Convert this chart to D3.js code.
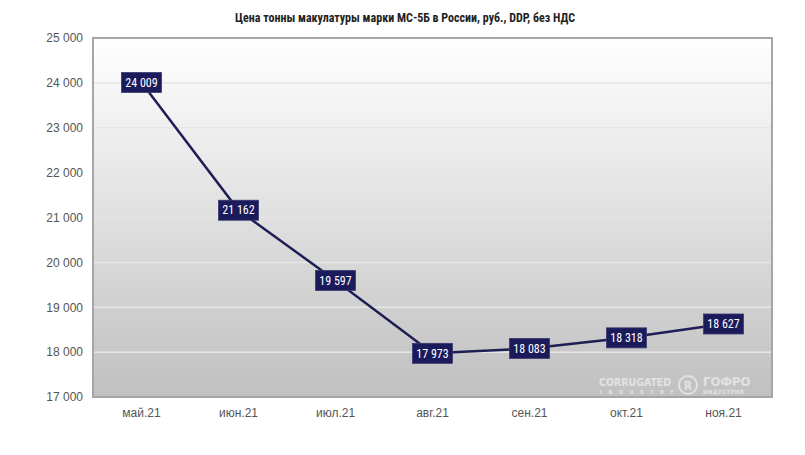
<!DOCTYPE html>
<html>
<head>
<meta charset="utf-8">
<script src="https://cdn.jsdelivr.net/npm/d3@7"></script>
<style>
  body { margin: 0; background: #fff; }
  svg { display: block; font-family: "Liberation Sans Narrow", "Roboto Condensed", "Liberation Sans", sans-serif; }
</style>
</head>
<body>
<svg id="chart"></svg>
<script>
var months = ["май.21", "июн.21", "июл.21", "авг.21", "сен.21", "окт.21", "ноя.21"];
var prices = [24009, 21162, 19597, 17973, 18083, 18318, 18627];
var yTicks = [17000, 18000, 19000, 20000, 21000, 22000, 23000, 24000, 25000];
var title = "Цена тонны макулатуры марки МС-5Б в России, руб., DDP, без НДС";

var width = 805, height = 455;
var margin = {top: 38, right: 33, bottom: 58, left: 93};

var svg = d3.select("#chart")
  .attr("width", width)
  .attr("height", height);

var fmt = function(v) { return d3.format(",")(v).replace(/,/g, " "); };

var x = d3.scaleBand()
  .domain(months)
  .range([margin.left, width - margin.right]);

var y = d3.scaleLinear()
  .domain([17000, 25000])
  .range([height - margin.bottom, margin.top]);

// background gradient
var grad = svg.append("defs").append("linearGradient")
  .attr("id", "bg")
  .attr("x1", 0).attr("y1", 0).attr("x2", 0).attr("y2", 1);
grad.append("stop").attr("offset", "0%").attr("stop-color", "#ffffff");
grad.append("stop").attr("offset", "100%").attr("stop-color", "#c0c0c0");

svg.append("rect")
  .attr("x", margin.left)
  .attr("y", margin.top)
  .attr("width", width - margin.left - margin.right)
  .attr("height", height - margin.top - margin.bottom)
  .attr("fill", "url(#bg)");

// gridlines
svg.append("g")
  .selectAll("line")
  .data(yTicks.slice(1, -1))
  .join("line")
  .attr("x1", margin.left)
  .attr("x2", width - margin.right)
  .attr("y1", d => y(d))
  .attr("y2", d => y(d))
  .attr("stroke", "#e6e6e6")
  .attr("stroke-width", 1.5);

// border
svg.append("rect")
  .attr("x", margin.left)
  .attr("y", margin.top)
  .attr("width", width - margin.left - margin.right)
  .attr("height", height - margin.top - margin.bottom)
  .attr("fill", "none")
  .attr("stroke", "#a6a6a6")
  .attr("stroke-width", 2);

// y axis
var yAxis = svg.append("g")
  .attr("transform", "translate(" + margin.left + ",0)")
  .call(d3.axisLeft(y).tickValues(yTicks).tickFormat(fmt).tickSize(0).tickPadding(10));
yAxis.select(".domain").remove();
yAxis.selectAll("text")
  .style("font-size", "12px")
  .style("fill", "#555");

// x axis
var xAxis = svg.append("g")
  .attr("transform", "translate(0," + (height - margin.bottom) + ")")
  .call(d3.axisBottom(x).tickSize(0).tickPadding(11));
xAxis.select(".domain").remove();
xAxis.selectAll("text")
  .style("font-size", "12px")
  .style("fill", "#555");

// watermark
var wm = svg.append("g")
  .attr("fill", "#e2e2e2")
  .attr("font-weight", "bold")
  .attr("font-family", "DejaVu Sans Condensed, DejaVu Sans");
wm.append("text").attr("x", 599).attr("y", 386).attr("font-size", 10.5).text("CORRUGATED");
wm.append("text").attr("x", 600).attr("y", 394).attr("font-size", 5.5).attr("letter-spacing", 6.5).text("INDUSTRY");
wm.append("circle").attr("cx", 688).attr("cy", 385).attr("r", 9)
  .attr("fill", "none").attr("stroke", "#e2e2e2").attr("stroke-width", 2);
wm.append("text").attr("x", 688).attr("y", 389.5).attr("font-size", 12).attr("text-anchor", "middle").text("R");
wm.append("text").attr("x", 703).attr("y", 386).attr("font-size", 13).text("ГОФРО");
wm.append("text").attr("x", 703).attr("y", 394).attr("font-size", 6).attr("letter-spacing", 0.3).text("ИНДУСТРИЯ");

// line
var line = d3.line()
  .x((d, i) => x(months[i]) + x.bandwidth() / 2)
  .y(d => y(d));

svg.append("path")
  .datum(prices)
  .attr("d", line)
  .attr("fill", "none")
  .attr("stroke", "#1e1e55")
  .attr("stroke-width", 2.5);

// value labels
var labels = svg.append("g")
  .selectAll("g")
  .data(prices)
  .join("g")
  .attr("transform", (d, i) => "translate(" + (x(months[i]) + x.bandwidth() / 2) + "," + y(d) + ")");

labels.append("rect")
  .attr("x", -20)
  .attr("y", -10)
  .attr("width", 40)
  .attr("height", 20)
  .attr("fill", "#1b1b5c")
  .attr("stroke", "#3a3a70")
  .attr("stroke-width", 0.8);

labels.append("text")
  .attr("text-anchor", "middle")
  .attr("dy", "0.35em")
  .style("font-size", "12px")
  .style("fill", "#fff")
  .text(fmt);

// title
svg.append("text")
  .attr("x", 405)
  .attr("y", 22)
  .attr("text-anchor", "middle")
  .style("font-size", "12px")
  .style("font-weight", "bold")
  .style("fill", "#222")
  .text(title);
</script>
</body>
</html>
